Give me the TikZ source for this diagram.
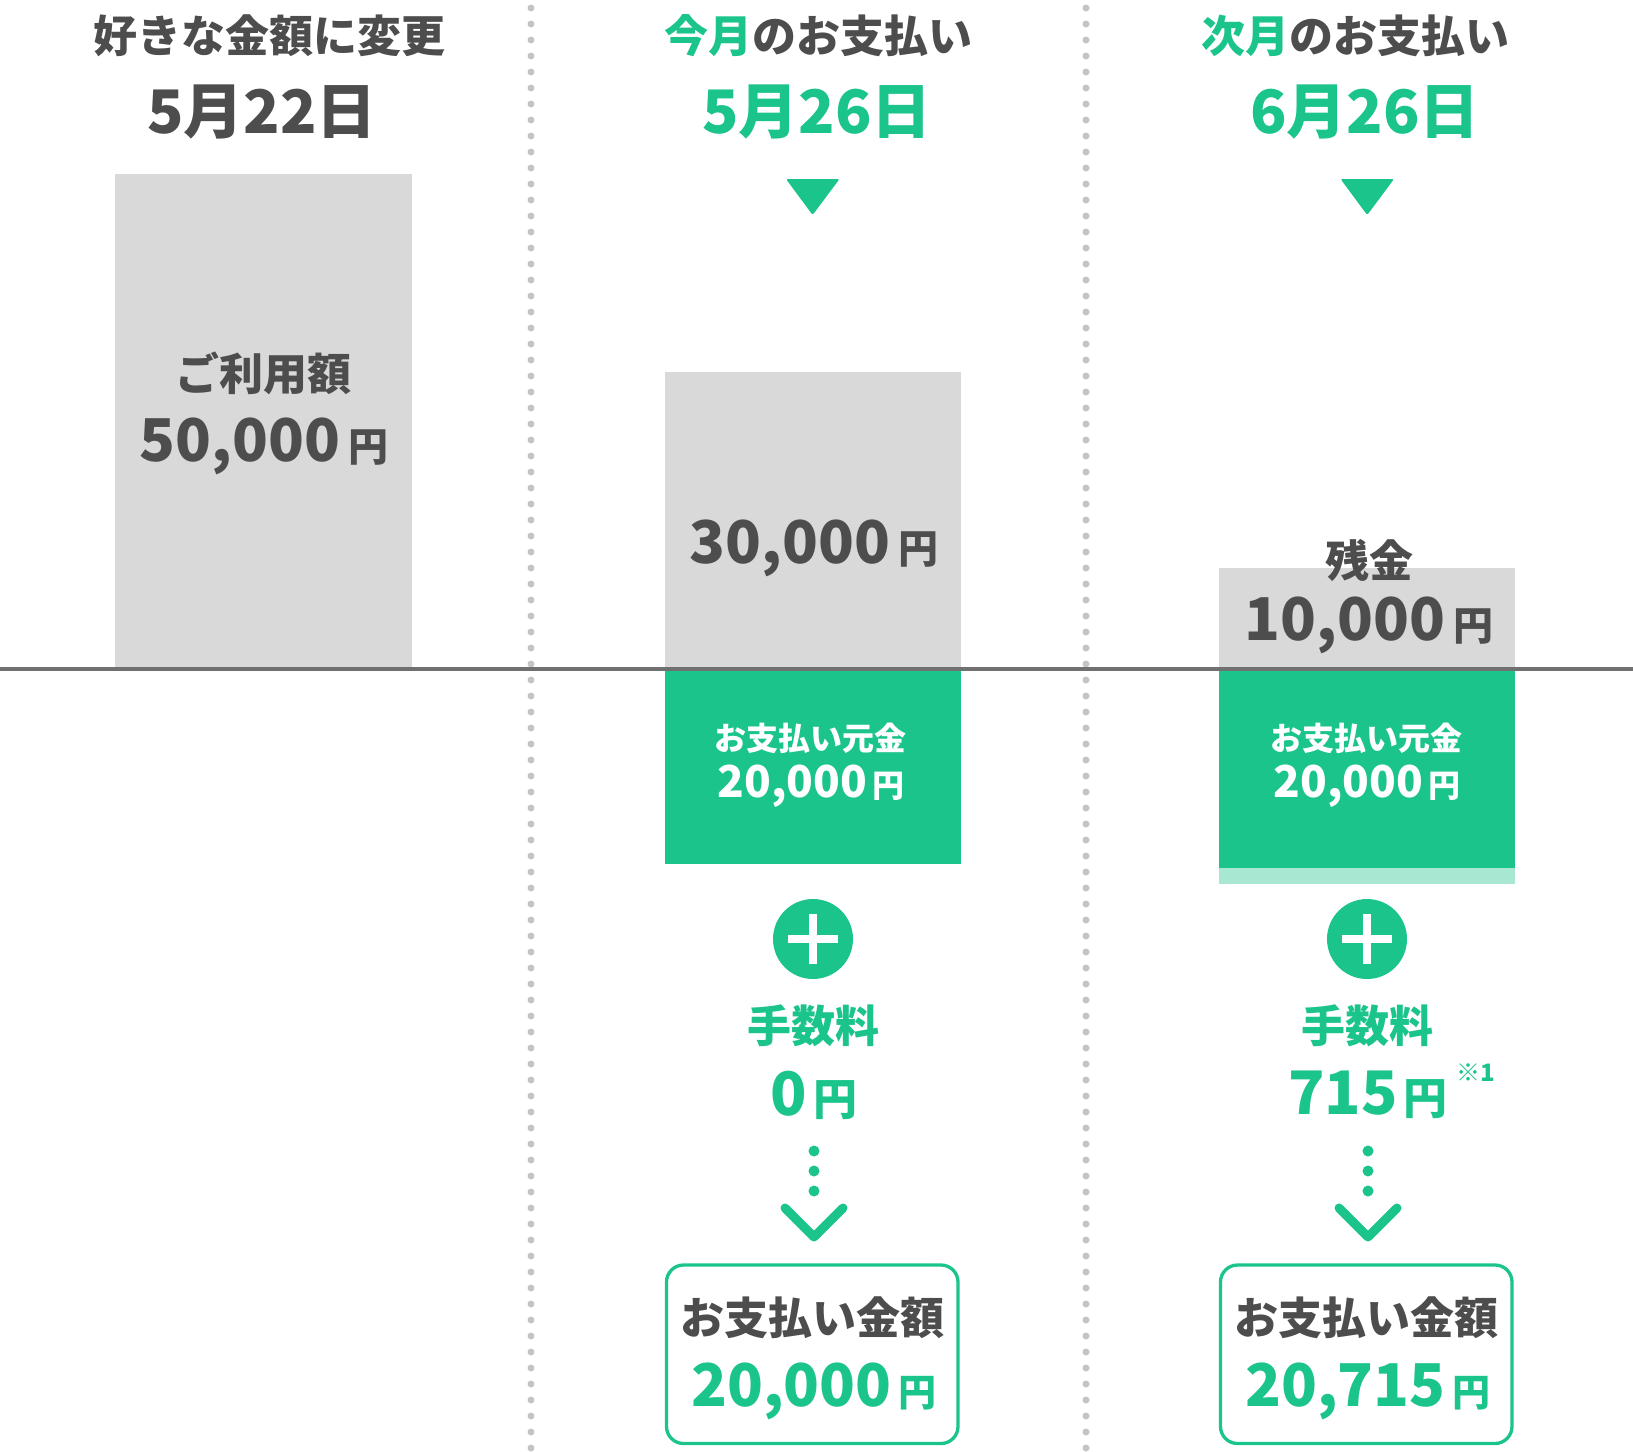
\documentclass[tikz,border=0pt]{standalone}
\usepackage{fontspec}
\usetikzlibrary{calc}
\setmainfont{Noto Sans CJK JP}
\definecolor{grn}{HTML}{1BC48A}
\definecolor{lgrn}{HTML}{A8E8D3}
\definecolor{txt}{HTML}{4D4D4D}
\definecolor{boxgray}{HTML}{D9D9D9}
\definecolor{linegray}{HTML}{707070}
\definecolor{dotgray}{HTML}{C4C4C4}
\newcommand{\fs}[1]{\fontsize{#1}{#1}\selectfont}
\begin{document}
\begin{tikzpicture}[x=1pt,y=-1pt,
  every node/.style={inner sep=0pt, outer sep=0pt, font=\bfseries, text=txt},
  bar/.style={fill=boxgray, draw=none},
  gbar/.style={fill=grn, draw=none},
  divider/.style={draw=dotgray, line width=7pt, line cap=round, dash pattern=on 0pt off 16pt},
  tri/.style={fill=grn, rounded corners=2pt},
  dotarrow/.style={draw=grn, line width=11pt, line cap=round, dash pattern=on 0pt off 20pt},
  chev/.style={draw=grn, line width=9pt, line cap=round, line join=round},
  paybox/.style={draw=grn, line width=3.3pt, rounded corners=17pt, fill=white}
]
\useasboundingbox (0,0) rectangle (1633,1451);
% dotted dividers
\draw[divider] (531,8) -- (531,1451);
\draw[divider] (1086,8) -- (1086,1451);

% bars
\fill[bar] (114.5,174) rectangle (411.5,667);
\fill[bar] (665,372) rectangle (961,667);
\fill[bar] (1219,568) rectangle (1514.5,667);
\fill[gbar] (665,671) rectangle (961,864);
\fill[lgrn] (1219,866) rectangle (1514.5,883.5);
\fill[gbar] (1219,671) rectangle (1514.5,868);

% baseline
\draw[linegray, line width=4pt] (0,669) -- (1633,669);

% column 1
\node (t1) at (269,36) {\fs{44}好きな金額に変更};
\node (d1) at (262,112) {\fs{60}5月22日};
\node (u1) at (263,373) {\fs{44}ご利用額};
\node (a1) at (264,446) {\fs{59}50,000\hspace{8pt}\fs{40}円};

% column 2
\node (t2) at (818,36) {\fs{44}{\color{grn}今月}のお支払い};
\node[text=grn] (d2) at (817,112) {\fs{60}5月26日};
\fill[tri] (786,179) -- (839.5,179) -- (812.6,215) -- cycle;
\node (a2) at (814,548) {\fs{59}30,000\hspace{8pt}\fs{40}円};
\node[text=white] (p2) at (810,738) {\fs{32}お支払い元金};
\node[text=white] (q2) at (811,786) {\fs{44}20,000\hspace{5pt}\fs{32}円};
\node[circle, fill=grn, minimum size=80pt] (c2) at (813,939) {};
\fill[white] ($(c2)+(-25,-4.2)$) rectangle ($(c2)+(25,4.2)$);
\fill[white] ($(c2)+(-4.2,-25)$) rectangle ($(c2)+(4.2,25)$);
\node[text=grn] (f2) at (813,1026) {\fs{44}手数料};
\node[text=grn] (m2) at (814,1095) {\fs{60}0\hspace{6pt}\fs{44}円};
\coordinate (s2) at (814,1151);
\coordinate (e2) at (814,1211);
\draw[dotarrow] (s2) -- (e2);
\draw[chev] ($(e2)+(-29,-3)$) -- ($(e2)+(0,26)$) -- ($(e2)+(29,-3)$);
\draw[paybox] (666.5,1265) rectangle (958,1443.5);
\node (b2) at (812,1318) {\fs{44}お支払い金額};
\node[text=grn] (v2) at (814,1391) {\fs{59}20,000\hspace{7pt}\fs{38}円};

% column 3
\node (t3) at (1355,36) {\fs{44}{\color{grn}次月}のお支払い};
\node[text=grn] (d3) at (1365,112) {\fs{60}6月26日};
\fill[tri] (1340.5,179) -- (1394,179) -- (1367.2,215) -- cycle;
\node (r3) at (1369,560) {\fs{44}残金};
\node (a3) at (1369,625) {\fs{59}10,000\hspace{8pt}\fs{40}円};
\node[text=white] (p3) at (1366,738) {\fs{32}お支払い元金};
\node[text=white] (q3) at (1367,786) {\fs{44}20,000\hspace{5pt}\fs{32}円};
\node[circle, fill=grn, minimum size=80pt] (c3) at (1367,939) {};
\fill[white] ($(c3)+(-25,-4.2)$) rectangle ($(c3)+(25,4.2)$);
\fill[white] ($(c3)+(-4.2,-25)$) rectangle ($(c3)+(4.2,25)$);
\node[text=grn] (f3) at (1367,1026) {\fs{44}手数料};
\node[text=grn] (m3) at (1368,1095) {\fs{60}715\hspace{6pt}\fs{44}円};
\node[text=grn] (n3) at (1476,1073) {\fs{24}※1};
\coordinate (s3) at (1368,1151);
\coordinate (e3) at (1368,1211);
\draw[dotarrow] (s3) -- (e3);
\draw[chev] ($(e3)+(-29,-3)$) -- ($(e3)+(0,26)$) -- ($(e3)+(29,-3)$);
\draw[paybox] (1220.5,1265) rectangle (1512,1443.5);
\node (b3) at (1366,1318) {\fs{44}お支払い金額};
\node[text=grn] (v3) at (1368,1391) {\fs{59}20,715\hspace{7pt}\fs{38}円};
\end{tikzpicture}
\end{document}
